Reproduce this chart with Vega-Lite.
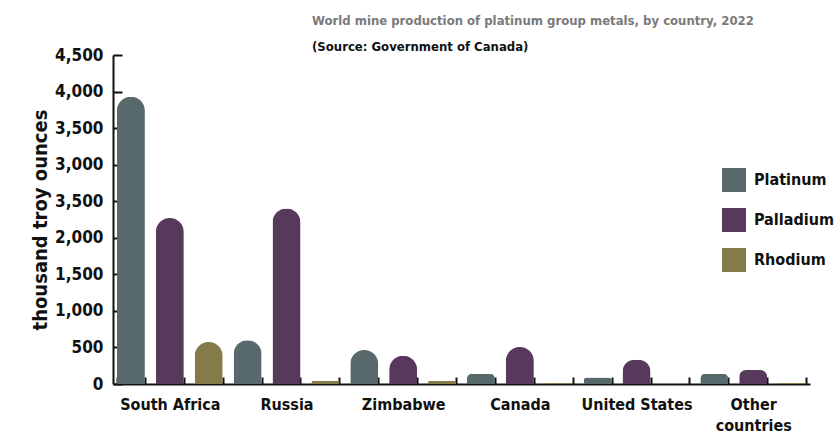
{
  "$schema": "https://vega.github.io/schema/vega-lite/v6.json",
  "width": 697,
  "height": 329,
  "autosize": {"type": "none"},
  "padding": {"left": 113, "top": 55, "right": 30, "bottom": 55},
  "background": "white",
  "title": {
    "text": "World mine production of platinum group metals, by country, 2022",
    "subtitle": "(Source: Government of Canada)",
    "anchor": "start",
    "frame": "group",
    "dx": 199,
    "offset": -8,
    "font": "DejaVu Sans Condensed",
    "fontSize": 13,
    "fontWeight": "bold",
    "color": "#7a7a7a",
    "subtitleFont": "DejaVu Sans Condensed",
    "subtitleFontSize": 13,
    "subtitleFontWeight": "bold",
    "subtitleColor": "#111111",
    "subtitlePadding": 13
  },
  "config": {
    "view": {"stroke": null},
    "font": "DejaVu Sans Condensed"
  },
  "data": {
    "values": [
      {"bar": "South Africa|Platinum", "country": "South Africa", "metal": "Platinum", "value": 3930},
      {"bar": "South Africa|Palladium", "country": "South Africa", "metal": "Palladium", "value": 2270},
      {"bar": "South Africa|Rhodium", "country": "South Africa", "metal": "Rhodium", "value": 575},
      {"bar": "Russia|Platinum", "country": "Russia", "metal": "Platinum", "value": 600},
      {"bar": "Russia|Palladium", "country": "Russia", "metal": "Palladium", "value": 2400},
      {"bar": "Russia|Rhodium", "country": "Russia", "metal": "Rhodium", "value": 45},
      {"bar": "Zimbabwe|Platinum", "country": "Zimbabwe", "metal": "Platinum", "value": 465},
      {"bar": "Zimbabwe|Palladium", "country": "Zimbabwe", "metal": "Palladium", "value": 385},
      {"bar": "Zimbabwe|Rhodium", "country": "Zimbabwe", "metal": "Rhodium", "value": 40},
      {"bar": "Canada|Platinum", "country": "Canada", "metal": "Platinum", "value": 140},
      {"bar": "Canada|Palladium", "country": "Canada", "metal": "Palladium", "value": 505},
      {"bar": "Canada|Rhodium", "country": "Canada", "metal": "Rhodium", "value": 12},
      {"bar": "United States|Platinum", "country": "United States", "metal": "Platinum", "value": 90},
      {"bar": "United States|Palladium", "country": "United States", "metal": "Palladium", "value": 330},
      {"bar": "United States|Rhodium", "country": "United States", "metal": "Rhodium", "value": 0},
      {"bar": "Other countries|Platinum", "country": "Other countries", "metal": "Platinum", "value": 140},
      {"bar": "Other countries|Palladium", "country": "Other countries", "metal": "Palladium", "value": 190},
      {"bar": "Other countries|Rhodium", "country": "Other countries", "metal": "Rhodium", "value": 15}
    ]
  },
  "mark": {"type": "bar", "cornerRadiusTopLeft": 14, "cornerRadiusTopRight": 14},
  "encoding": {
    "x": {
      "field": "bar",
      "type": "nominal",
      "sort": null,
      "scale": {"paddingInner": 0.28, "paddingOuter": 0.1},
      "axis": {
        "title": null,
        "labelAngle": 0,
        "tickBand": "extent",
        "labelExpr": "indexof(datum.label || '', 'Palladium') >= 0 ? (indexof(datum.label || '', 'Other') >= 0 ? ['Other', 'countries'] : slice(datum.label, 0, indexof(datum.label, '|'))) : ''",
        "labelFontSize": 16,
        "labelFontWeight": "bold",
        "labelColor": "#111111",
        "labelPadding": 19,
        "labelLineHeight": 21,
        "domainColor": "#111111",
        "domainWidth": 2,
        "tickColor": "#111111",
        "tickWidth": 2,
        "tickSize": -7
      }
    },
    "y": {
      "field": "value",
      "type": "quantitative",
      "scale": {"domain": [0, 4500], "nice": false},
      "axis": {
        "title": "thousand troy ounces",
        "titleFontSize": 20,
        "titleFontWeight": "bold",
        "titleColor": "#111111",
        "titlePadding": 4,
        "values": [0, 500, 1000, 1500, 2000, 2500, 3000, 3500, 4000, 4500],
        "labelExpr": "datum.value == 2500 ? '3,500' : format(datum.value, ',')",
        "labelFontSize": 17,
        "labelFontWeight": "bold",
        "labelColor": "#111111",
        "labelPadding": 19,
        "grid": false,
        "domainColor": "#111111",
        "domainWidth": 2,
        "tickColor": "#111111",
        "tickWidth": 2,
        "tickSize": -9
      }
    },
    "color": {
      "field": "metal",
      "type": "nominal",
      "scale": {
        "domain": ["Platinum", "Palladium", "Rhodium"],
        "range": ["#57696b", "#56395b", "#857b4a"]
      },
      "legend": {
        "title": null,
        "orient": "none",
        "legendX": 609,
        "legendY": 113,
        "symbolType": "square",
        "symbolSize": 576,
        "symbolStrokeWidth": 0,
        "symbolOpacity": 1,
        "rowPadding": 16,
        "labelFontSize": 16,
        "labelFontWeight": "bold",
        "labelColor": "#111111",
        "labelOffset": 8
      }
    }
  }
}
